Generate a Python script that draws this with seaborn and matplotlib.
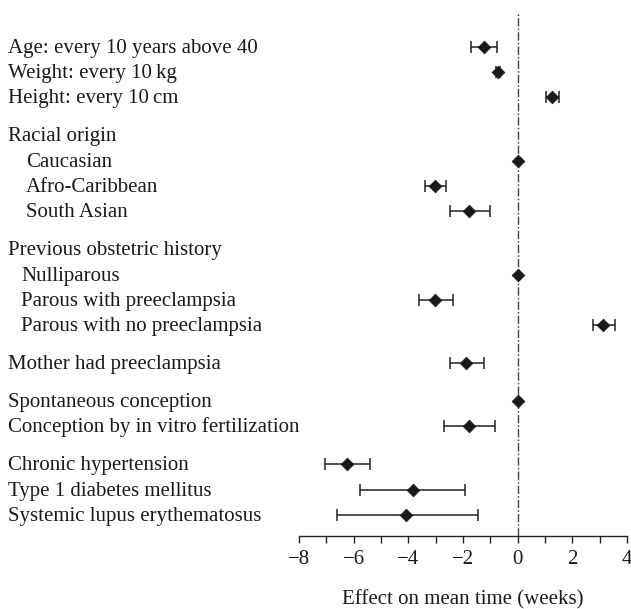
#!/usr/bin/env python3

import numpy as np
import pandas as pd
import matplotlib.pyplot as plt
import seaborn as sns
from matplotlib.transforms import blended_transform_factory, ScaledTranslation

SET_DPI = 100
FIGSIZE = (6.31, 6.09)
FONT = ['Liberation Serif', 'DejaVu Serif']
FS = 15

# row labels, grouped (a gap is left between groups)
GROUPS = [
    ['Age: every 10 years above 40', 'Weight: every 10\u2009kg', 'Height: every 10\u2009cm'],
    ['Racial origin', 'Caucasian', 'Afro-Caribbean', 'South Asian'],
    ['Previous obstetric history', 'Nulliparous', 'Parous with preeclampsia',
     'Parous with no preeclampsia'],
    ['Mother had preeclampsia'],
    ['Spontaneous conception', 'Conception by in vitro fertilization'],
    ['Chronic hypertension', 'Type 1 diabetes mellitus', 'Systemic lupus erythematosus'],
]
INDENT = [0, 0, 0, 0, 2, 2, 2, 0, 1, 1, 1, 0, 0, 0, 0, 0, 0]

nan = np.nan
EFFECT = [-1.22, -0.73, 1.24, nan, 0.0, -3.02, -1.77, nan, 0.0, -3.02, 3.13,
          -1.89, 0.0, -1.78, -6.23, -3.84, -4.07]
LOWER = [-1.72, -0.80, 1.02, nan, nan, -3.41, -2.48, nan, nan, -3.62, 2.77,
         -2.46, nan, -2.69, -7.07, -5.76, -6.62]
UPPER = [-0.77, -0.66, 1.51, nan, nan, -2.63, -1.00, nan, nan, -2.37, 3.57,
         -1.22, nan, -0.83, -5.41, -1.93, -1.44]

XTICKS = [-8, -6, -4, -2, 0, 2, 4]
XLABEL = 'Effect on mean time (weeks)'


def row_positions(groups):
    pos, y = [], 0.0
    for gi, grp in enumerate(groups):
        if gi > 0:
            y += 0.5
        for _ in grp:
            pos.append(y)
            y += 1.0
    return pos


def forest():
    labels = [lab for grp in GROUPS for lab in grp]
    df = pd.DataFrame({'label': labels, 'pos': row_positions(GROUPS),
                       'effect': EFFECT, 'lower': LOWER, 'upper': UPPER,
                       'indent': INDENT})

    sns.set_theme(style='white')
    plt.rcParams['font.family'] = FONT

    fig = plt.figure(figsize=FIGSIZE, dpi=SET_DPI)
    ax = fig.add_axes([0.474, 0.120, 0.5197, 0.860])

    ax.axvline(0, color='#444444', lw=1.0, ls=(0, (6, 1.5, 1.2, 1.5)), zorder=1)

    ci = df.dropna(subset=['lower'])
    ax.errorbar(ci['effect'], ci['pos'],
                xerr=[ci['effect'] - ci['lower'], ci['upper'] - ci['effect']],
                fmt='none', ecolor='#222222', elinewidth=1.1, capsize=4.5,
                capthick=1.1, zorder=2)
    sns.scatterplot(data=df.dropna(subset=['effect']), x='effect', y='pos',
                    marker='D', s=42, color='#1a1a1a', edgecolor='#1a1a1a',
                    zorder=3, ax=ax, legend=False)

    # labels sit on a baseline a little below the row centre
    trans = blended_transform_factory(fig.transFigure, ax.transData) + \
        ScaledTranslation(0, -6.0 / SET_DPI, fig.dpi_scale_trans)
    indent_px = {0: 0, 1: 13, 2: 18}
    for _, r in df.iterrows():
        ax.text((8 + indent_px[r['indent']]) / 631, r['pos'], r['label'],
                transform=trans, ha='left', va='baseline', fontsize=FS,
                color='#1a1a1a')

    ax.set_xlim(-8, 4)
    ax.set_ylim(19.33, -1.37)
    ax.set_xticks(XTICKS)
    ax.set_xticklabels([f'{t}'.replace('-', '\u2212') for t in XTICKS])
    ax.set_xticks(np.arange(-7, 4, 2), minor=True)
    ax.tick_params(axis='x', which='both', direction='out', length=5,
                   width=1.0, color='#222222', labelsize=FS, pad=5,
                   bottom=True, labelcolor='#1a1a1a')
    ax.set_yticks([])
    ax.set_xlabel(XLABEL, fontsize=FS, labelpad=15, color='#1a1a1a')
    ax.set_ylabel('')
    for side in ['top', 'right', 'left']:
        ax.spines[side].set_visible(False)
    ax.spines['bottom'].set_color('#222222')
    ax.spines['bottom'].set_linewidth(1.0)

    fig.savefig('out.png', dpi=SET_DPI)
    plt.close(fig)


if __name__ == '__main__':
    forest()
